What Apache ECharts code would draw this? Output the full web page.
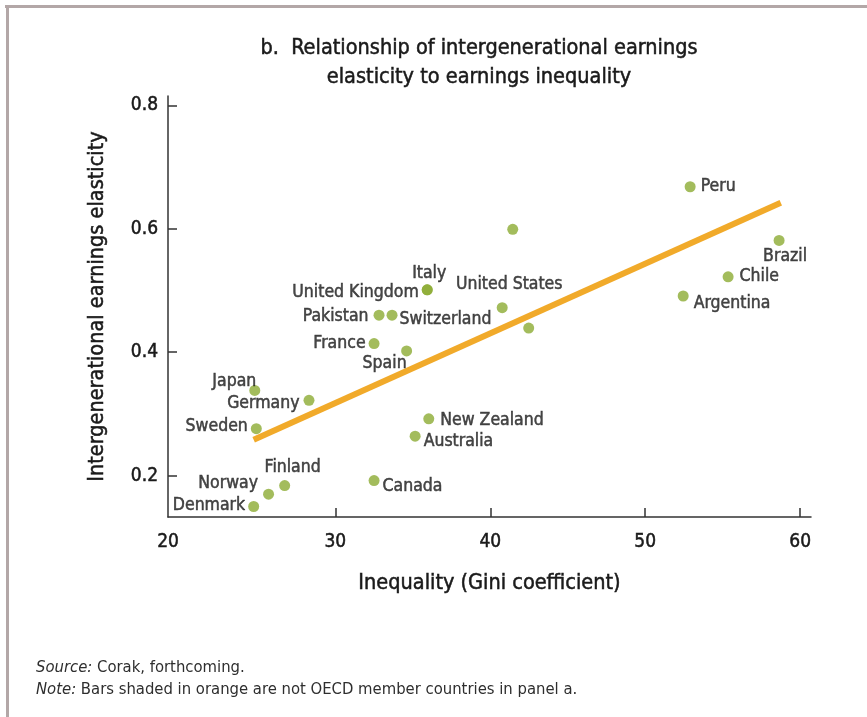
<!DOCTYPE html>
<html>
<head>
<meta charset="utf-8">
<script src="https://cdn.jsdelivr.net/npm/echarts@6/dist/echarts.min.js"></script>
<style>
  html, body { margin: 0; padding: 0; background: #fff; }
  #chart { width: 867px; height: 717px; }
</style>
</head>
<body>
<div id="chart"></div>
<script>
// values
const countries = ['Peru', '', 'Brazil', 'Chile', 'Argentina', 'Italy', 'United Kingdom', 'United States', '',
  'Pakistan', 'Switzerland', 'France', 'Spain', 'Japan', 'Germany', 'Sweden', 'New Zealand', 'Australia',
  'Canada', 'Finland', 'Norway', 'Denmark']
const gini = [52.9, 41.45, 58.64, 55.35, 52.45, 35.93, 35.93, 40.77, 42.48,
  32.82, 33.66, 32.5, 34.6, 24.8, 28.3, 24.9, 36.03, 35.15,
  32.5, 26.73, 25.69, 24.73]
const elasticity = [0.668, 0.599, 0.581, 0.522, 0.491, 0.501, 0.501, 0.472, 0.439,
  0.460, 0.460, 0.414, 0.402, 0.338, 0.322, 0.276, 0.292, 0.264,
  0.192, 0.184, 0.170, 0.150]
const trendGini = [24.73, 58.75]
const trendElasticity = [0.258, 0.642]
const xTicks = [30, 40, 50, 60]
const yTicks = [0.2, 0.4, 0.6, 0.8]

const FONT = "'Liberation Sans Narrow', 'DejaVu Sans Condensed', sans-serif"
const INK = '#1a1a1a'
const xMin = 19.2

// where each country's label sits relative to its dot
const labelPlace = {
  'Peru': ['right', 5, [0, 0]],
  'Brazil': ['bottom', 2, [6, 0]],
  'Chile': ['right', 6, [0, 0]],
  'Argentina': ['right', 5, [0, 7]],
  'Italy': ['top', 2, [2, 0]],
  'United Kingdom': ['left', 3, [0, 3]],
  'United States': ['top', 9, [7, 0]],
  'Pakistan': ['left', 5, [0, 1]],
  'Switzerland': ['right', 2, [0, 4]],
  'France': ['left', 3, [0, 0]],
  'Spain': ['bottom', 0, [-22, -2]],
  'Japan': ['left', 5, [12, -9]],
  'Germany': ['left', 4, [0, 3]],
  'Sweden': ['left', 3, [0, -2]],
  'New Zealand': ['right', 6, [0, 2]],
  'Australia': ['right', 3, [0, 5]],
  'Canada': ['right', 3, [0, 6]],
  'Finland': ['top', 5, [8, 1]],
  'Norway': ['left', 5, [0, -11]],
  'Denmark': ['left', 3, [0, -1]]
}

const points = countries.map((name, i) => {
  const p = labelPlace[name]
  return {
    name,
    value: [gini[i], elasticity[i]],
    label: p ? { show: true, position: p[0], distance: p[1], offset: p[2] } : { show: false }
  }
})

// a thin stroke of the same ink gives the text a semibold look
const heavy = { color: INK, textBorderColor: INK, textBorderWidth: 0.5 }

const chart = echarts.init(document.getElementById('chart'))
chart.setOption({
  animation: false,
  backgroundColor: '#fff',
  textStyle: { fontFamily: FONT },
  title: {
    text: 'b.  Relationship of intergenerational earnings\nelasticity to earnings inequality',
    left: 474,
    top: 29,
    textAlign: 'center',
    textStyle: Object.assign({ fontFamily: FONT, fontSize: 21.5, fontWeight: 'normal', lineHeight: 29 }, heavy)
  },
  grid: { left: 168, right: 56, top: 96, bottom: 200 },
  xAxis: {
    type: 'value',
    min: xMin,
    max: 60.7,
    name: 'Inequality (Gini coefficient)',
    nameLocation: 'middle',
    nameGap: 55,
    nameTextStyle: Object.assign({ fontFamily: FONT, fontSize: 21.5 }, heavy),
    axisLine: { lineStyle: { color: '#333', width: 1.5 } },
    axisTick: { inside: true, length: 9, customValues: xTicks, lineStyle: { color: '#333', width: 1.5 } },
    axisLabel: Object.assign({
      customValues: [xMin].concat(xTicks),
      formatter: (v) => String(Math.round(v / 10) * 10),
      margin: 16,
      fontFamily: FONT,
      fontSize: 19
    }, heavy),
    splitLine: { show: false }
  },
  yAxis: {
    type: 'value',
    min: 0.133,
    max: 0.815,
    name: 'Intergenerational earnings elasticity',
    nameLocation: 'middle',
    nameGap: 60,
    nameTextStyle: Object.assign({ fontFamily: FONT, fontSize: 21.5 }, heavy),
    axisLine: { lineStyle: { color: '#333', width: 1.5 } },
    axisTick: { inside: true, length: 9, customValues: yTicks, lineStyle: { color: '#333', width: 1.5 } },
    axisLabel: Object.assign({
      customValues: yTicks,
      formatter: (v) => v.toFixed(1),
      margin: 10,
      fontFamily: FONT,
      fontSize: 19
    }, heavy),
    splitLine: { show: false }
  },
  series: [
    {
      name: 'Trend',
      type: 'line',
      data: trendGini.map((x, i) => [x, trendElasticity[i]]),
      showSymbol: false,
      lineStyle: { color: '#f1aa2a', width: 6, cap: 'butt' },
      z: 2
    },
    {
      name: 'Countries',
      type: 'scatter',
      data: points,
      symbolSize: 11,
      itemStyle: { color: '#8cab33' },
      label: Object.assign({
        formatter: '{b}',
        fontFamily: FONT,
        fontSize: 17.5
      }, heavy),
      z: 3
    }
  ],
  graphic: [
    { type: 'rect', shape: { x: 5, y: 5, width: 862, height: 3 }, style: { fill: '#b3a7a7' } },
    { type: 'rect', shape: { x: 6, y: 5, width: 3, height: 712 }, style: { fill: '#b3a7a7' } },
    {
      type: 'text', left: 36, top: 659,
      style: {
        text: '{i|Source:} Corak, forthcoming.',
        fontFamily: FONT, fontSize: 16.5, fill: '#2e2e2e',
        rich: { i: { fontFamily: FONT, fontSize: 16.5, fontStyle: 'italic', fill: '#2e2e2e' } }
      }
    },
    {
      type: 'text', left: 36, top: 681,
      style: {
        text: '{i|Note:} Bars shaded in orange are not OECD member countries in panel a.',
        fontFamily: FONT, fontSize: 16.5, fill: '#2e2e2e',
        rich: { i: { fontFamily: FONT, fontSize: 16.5, fontStyle: 'italic', fill: '#2e2e2e' } }
      }
    }
  ]
})
</script>
</body>
</html>
